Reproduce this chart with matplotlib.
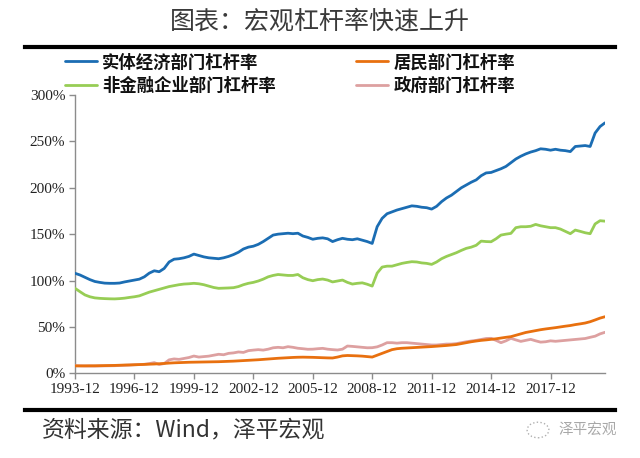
import matplotlib
matplotlib.use("Agg")
import matplotlib.pyplot as plt
from matplotlib.lines import Line2D
from matplotlib.patches import Circle

plt.rcParams['font.family'] = ['Noto Sans CJK SC', 'DejaVu Sans']

# Quarterly data, 1993-12 to 2020-09 (%)
real_economy = [107.8, 106, 103.5, 101, 99, 98, 97.2, 97, 97, 97.3, 98.5, 99.5,
                100.5, 101.5, 104, 108, 110.5, 109.5, 113, 120, 123, 123.5, 124.5, 126,
                128.5, 127, 125.5, 124.5, 124, 123.5, 124.5, 126, 128, 130.5, 134, 136,
                137, 139, 142, 145.5, 149, 150, 150.5, 151, 150.5, 151, 148, 146.5,
                144.5, 145.5, 146, 145, 142, 144, 145.5, 144.5, 144, 145, 143.5, 142,
                140, 158, 167, 172, 174, 176, 177.5, 179, 180.5, 180, 179, 178.5,
                177, 180, 185, 189, 192, 196, 200, 203, 206, 208.5, 213, 216,
                216.5, 218.5, 220.5, 223, 227, 231, 234, 236.5, 238.5, 240, 242, 241.5,
                240.5, 241.5, 240.5, 240, 239, 244.5, 245, 245.5, 244.5, 259, 266, 270]
corporate = [91.6, 88, 84.5, 82.5, 81.3, 80.8, 80.5, 80.3, 80.2, 80.5, 81, 81.8,
             82.5, 83.5, 85.5, 87.5, 89, 90.5, 92, 93.5, 94.5, 95.5, 96.2, 96.5,
             97, 96.5, 95.5, 94, 92.5, 91.6, 91.8, 92, 92.3, 93.5, 95.5, 97,
             98, 99.5, 101.5, 104, 105.5, 106.5, 106, 105.5, 105.5, 106.5, 103, 101,
             99.8, 101, 101.6, 100.5, 98.5, 99.5, 100.5, 98, 96.2, 97, 97.5, 96,
             94, 108, 114.5, 115.5, 115.5, 117, 118.5, 119.5, 120.3, 120, 119, 118.5,
             117.4, 120, 123.5, 126, 128, 130, 132.5, 134.7, 136, 138, 142.5, 142,
             141.8, 145, 149, 150, 150.8, 157, 158, 158, 158.5, 160.5, 159, 158,
             157, 157, 155.5, 153, 150.5, 154.4, 153, 151.5, 150.5, 161, 164.5, 164]
household = [8.0, 8.0, 8.0, 8.1, 8.1, 8.2, 8.3, 8.4, 8.5, 8.7, 8.9, 9.0,
             9.2, 9.4, 9.6, 9.8, 10.0, 10.3, 10.6, 11.0, 11.3, 11.5, 11.7, 11.9,
             12.0, 12.1, 12.2, 12.3, 12.4, 12.5, 12.7, 12.9, 13.1, 13.4, 13.7, 14.0,
             14.3, 14.6, 15.0, 15.4, 15.8, 16.2, 16.5, 16.8, 17.1, 17.3, 17.4, 17.3,
             17.2, 17.0, 16.8, 16.6, 16.5, 17.5, 18.8, 19.2, 19.0, 18.8, 18.5, 18.0,
             17.5, 19.5, 21.5, 23.5, 25.5, 26.5, 27.0, 27.3, 27.6, 27.9, 28.2, 28.5,
             28.8, 29.2, 29.6, 30.0, 30.5, 31.0, 32.0, 33.0, 34.0, 34.8, 35.5, 36.0,
             36.6, 37.2, 38.0, 38.8, 39.5, 41.0, 42.5, 44.0, 45.0, 46.0, 47.0, 47.8,
             48.5, 49.2, 50.0, 50.8, 51.5, 52.5, 53.3, 54.2, 55.6, 57.5, 59.5, 61.0]
government = [8.2, 8.0, 7.9, 7.8, 7.8, 7.9, 8.0, 8.1, 8.2, 8.4, 8.6, 8.9,
              9.2, 9.4, 9.7, 10.5, 11.5, 9.5, 10.5, 14.5, 15.5, 15.0, 16.0, 17.0,
              18.6, 17.5, 18.0, 18.5, 19.5, 20.5, 20.0, 21.5, 22.0, 23.0, 22.5, 24.4,
              25.0, 25.5, 25.0, 26.0, 27.5, 28.0, 27.5, 28.7, 28.0, 27.0, 26.5, 25.9,
              26.0, 26.5, 26.9, 26.0, 25.5, 25.1, 26.0, 29.4, 29.0, 28.5, 28.0, 27.5,
              27.6, 28.5, 30.5, 33.0, 33.0, 32.5, 33.0, 33.0, 32.5, 32.0, 31.5, 31.0,
              30.5, 30.5, 31.0, 31.5, 31.5, 32.0, 33.0, 34.0, 34.8, 35.5, 36.5, 37.5,
              37.7, 35.5, 33.0, 35.0, 37.7, 36.0, 34.4, 35.5, 36.6, 35.0, 33.6, 34.0,
              35.0, 34.5, 35.0, 35.5, 36.0, 36.5, 37.0, 37.5, 38.8, 40.0, 42.5, 44.2]

series_names = ['实体经济部门杠杆率', '非金融企业部门杠杆率', '居民部门杠杆率', '政府部门杠杆率']
series_colors = ['#1B6DB3', '#97CD55', '#E8700F', '#DDA0A0']
xtick_labels = ['1993-12', '1996-12', '1999-12', '2002-12', '2005-12',
                '2008-12', '2011-12', '2014-12', '2017-12']
ytick_values = [0, 50, 100, 150, 200, 250, 300]

title_text = '图表：宏观杠杆率快速上升'
source_text = '资料来源：Wind，泽平宏观'
watermark_text = '泽平宏观'

W, H = 640, 458
fig = plt.figure(figsize=(W / 100, H / 100), dpi=100)
ax = fig.add_axes([75 / W, 1 - 373.3 / H, (605 - 75) / W, (373.3 - 95) / H])

x = list(range(len(real_economy)))
data = {series_names[0]: real_economy, series_names[1]: corporate,
        series_names[2]: household, series_names[3]: government}
# draw order: pink under orange, then green, blue on top
draw_order = [3, 2, 1, 0]
lines = {}
for z, k in enumerate(draw_order):
    name = series_names[k]
    ln, = ax.plot(x, data[name], color=series_colors[k], lw=2.0,
                  solid_joinstyle='round', solid_capstyle='round', zorder=3 + z)
    lines[name] = ln

ax.set_xlim(0, len(real_economy) - 1)
ax.set_ylim(0, 300)
ax.set_xticks([i * 12 for i in range(len(xtick_labels))])
ax.set_xticklabels(xtick_labels)
ax.set_yticks(ytick_values)
ax.set_yticklabels([f'{v}%' for v in ytick_values])

for side in ['top', 'right']:
    ax.spines[side].set_visible(False)
for side in ['left', 'bottom']:
    ax.spines[side].set_color('#8C8C8C')
    ax.spines[side].set_linewidth(1.0)
ax.tick_params(axis='both', direction='out', length=4, width=1, color='#8C8C8C',
               labelsize=11, labelcolor='#222222', pad=3,
               labelfontfamily='Liberation Serif')

# title and rules
fig.text(320 / W, 1 - 22 / H, title_text, ha='center', va='center',
         fontsize=18, color='#3A3A3A')
fig.add_artist(Line2D([25 / W, 615 / W], [1 - 46.5 / H] * 2, color='black', lw=3))
fig.add_artist(Line2D([25 / W, 615 / W], [1 - 409.5 / H] * 2, color='black', lw=3))

# legend (filled column-wise: col1 = 实体, 非金融; col2 = 居民, 政府)
handles = [lines[n] for n in series_names]
leg = fig.legend(handles, series_names, ncol=2, loc='upper left',
                 bbox_to_anchor=(65 / W, 1 - 53.5 / H), frameon=False,
                 prop={'family': ['Noto Sans CJK SC'], 'weight': 'bold', 'size': 12.5},
                 handlelength=1.85, handletextpad=0.3, columnspacing=4.6,
                 labelspacing=0.3, borderpad=0, borderaxespad=0)
for t in leg.get_texts():
    t.set_color('#111111')

# source and watermark
fig.text(42 / W, 1 - 430 / H, source_text, ha='left', va='center',
         fontsize=16.5, color='#333333', style='italic')
fig.text(558 / W, 1 - 430 / H, watermark_text, ha='left', va='center',
         fontsize=10.5, color='#A8A8A8')
fig.add_artist(Circle((538 / W, 1 - 430 / H), 0.017, transform=fig.transFigure,
                      fill=False, ls=':', ec='#B0B0B0', lw=1))

fig.savefig('out.png', dpi=100)
